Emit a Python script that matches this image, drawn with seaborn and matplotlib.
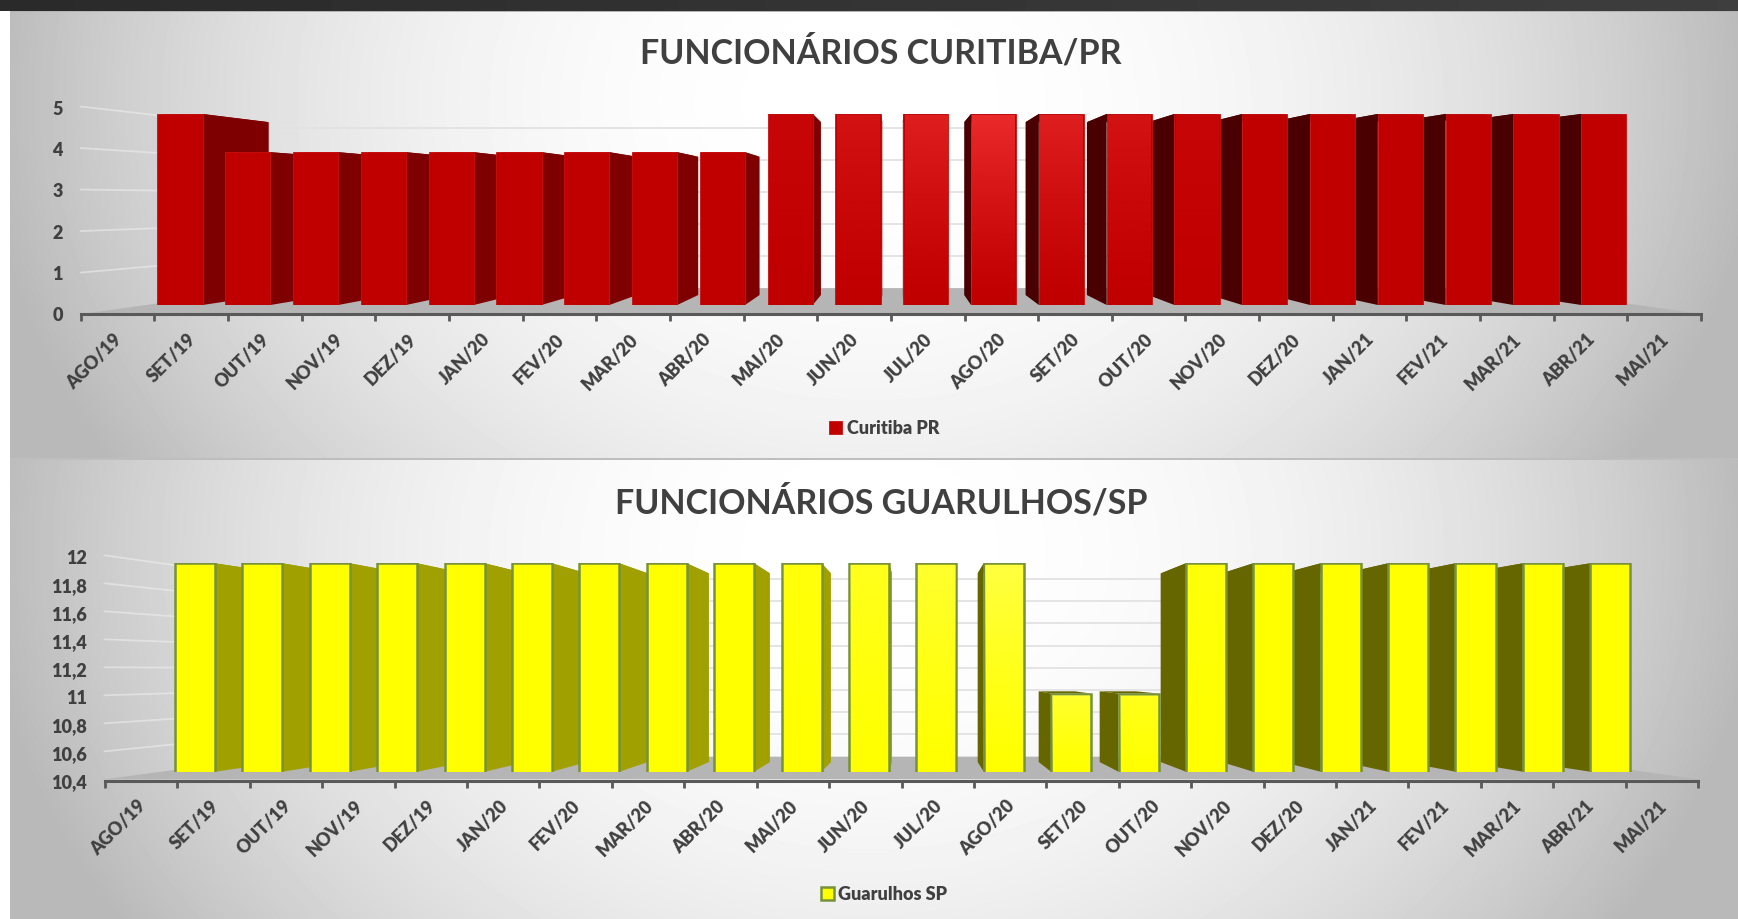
import numpy as np
import pandas as pd
import matplotlib
matplotlib.use("Agg")
import matplotlib.pyplot as plt
from matplotlib.patches import Polygon
from matplotlib.transforms import ScaledTranslation
import seaborn as sns

W, H = 1738, 919

meses = ["AGO/19", "SET/19", "OUT/19", "NOV/19", "DEZ/19", "JAN/20", "FEV/20", "MAR/20",
         "ABR/20", "MAI/20", "JUN/20", "JUL/20", "AGO/20", "SET/20", "OUT/20", "NOV/20",
         "DEZ/20", "JAN/21", "FEV/21", "MAR/21", "ABR/21", "MAI/21"]
curitiba = [5, 4, 4, 4, 4, 4, 4, 4, 4, 5, 5, 5, 5, 5, 5, 5, 5, 5, 5, 5, 5, 5]
guarulhos = [12, 12, 12, 12, 12, 12, 12, 12, 12, 12, 12, 12, 12, 11, 11, 12, 12, 12, 12, 12, 12, 12]
yticks_cwb = [0, 1, 2, 3, 4, 5]
yticks_gru = [10.4, 10.6, 10.8, 11, 11.2, 11.4, 11.6, 11.8, 12]
yticklabels_cwb = ["0", "1", "2", "3", "4", "5"]
yticklabels_gru = ["10,4", "10,6", "10,8", "11", "11,2", "11,4", "11,6", "11,8", "12"]

sns.set_style("white")
plt.rcParams["font.family"] = ["Lato", "DejaVu Sans"]
plt.rcParams["font.weight"] = "bold"
TXT = "#404040"


def rect(left, top, right, bottom):
    return [left / W, 1 - bottom / H, (right - left) / W, (bottom - top) / H]


def background():
    yy, xx = np.mgrid[0:H, 0:W]
    img = np.full((H, W), 255.0)
    for top, bottom in [(11, 459), (460, 919)]:
        m = (yy >= top) & (yy < bottom)
        r = np.sqrt(((xx - 870) / 868.0) ** 2 + ((yy - top - 90) / 680.0) ** 2)
        d = 67 * np.minimum(r, 1.02) ** 2.2
        img[m] = 255 - d[m]
    img[458:460, :] = 190
    img[11, :] = 180
    img[:, :10] = 255
    img[:11, :] = 42 + 20 * xx[:11, :] / W
    return img


def chart(fig, serie, valores, cor, lado_dir, lado_esq, borda, lw, brilho, title, title_y,
          front, axis_box, width, xv_px, yv_px, k_a, k_w, k_b, ticks, ticklabels,
          ylim, label_pad, ypad, leg_xy):
    df = pd.DataFrame({"mes": meses, "func": valores, "serie": serie})

    ax = fig.add_axes(rect(*front), zorder=2)
    ax.patch.set_alpha(0)
    sns.barplot(data=df, x="mes", y="func", hue="serie", palette=[cor], width=width, dodge=False,
                edgecolor=borda, linewidth=lw, saturation=1, ax=ax)
    ax.set_xlim(-0.5, 21.5)
    ax.set_ylim(*ylim)
    ax.set_xlabel("")
    ax.set_ylabel("")
    ax.set_xticks([])
    ax.set_yticks([])
    ax.grid(False)
    sns.despine(ax=ax, left=True, bottom=True)

    # eixo fica num axes proprio, por cima do chao
    ax_eixo = fig.add_axes(rect(*axis_box), zorder=3)
    ax_eixo.patch.set_alpha(0)
    ax_eixo.set_xlim(-0.5, 21.5)
    ax_eixo.set_ylim(*ylim)
    for s in ["top", "left", "right"]:
        ax_eixo.spines[s].set_visible(False)
    ax_eixo.spines["bottom"].set_linewidth(2.2)
    ax_eixo.spines["bottom"].set_color("#595959")
    ax_eixo.set_xticks(np.arange(-0.5, 22, 1))
    ax_eixo.set_xticklabels([])
    ax_eixo.set_xticks(np.arange(22), meses, minor=True)
    ax_eixo.tick_params(axis="x", which="major", length=5, width=2, color="#595959", direction="out", bottom=True)
    ax_eixo.tick_params(axis="x", which="minor", length=0, pad=label_pad, labelsize=13, labelcolor=TXT, bottom=False)
    desloc = ScaledTranslation(-4 / 100, 0, fig.dpi_scale_trans)
    for t in ax_eixo.get_xticklabels(minor=True):
        t.set_rotation(45)
        t.set_ha("right")
        t.set_va("top")
        t.set_rotation_mode("anchor")
        t.set_fontweight("heavy")
        t.set_transform(t.get_transform() + desloc)
    ax_eixo.set_yticks(ticks, ticklabels)
    ax_eixo.tick_params(axis="y", length=0, pad=ypad, labelsize=13, labelcolor=TXT, left=False)
    for t in ax_eixo.get_yticklabels():
        t.set_fontweight("heavy")

    # ponto de fuga em unidades de dado do plano frontal
    fl, ft, fr, fb = front
    xv = -0.5 + 22 * (xv_px - fl) / (fr - fl)
    yv = ylim[0] + (ylim[1] - ylim[0]) * (fb - yv_px) / (fb - ft)

    def proj(x, y, k):
        return (xv + k * (x - xv), yv + k * (y - yv))

    # chao e paredes
    x_l, x_r = -0.5, 21.5
    ax.add_patch(Polygon([proj(x_l, ylim[0], k_a), proj(x_r, ylim[0], k_a),
                          proj(x_r, ylim[0], k_w), proj(x_l, ylim[0], k_w)],
                         closed=True, fc="#b5b5b5", ec="none", zorder=0.5, clip_on=False))
    for v in ticks[1:]:
        a, b_, c_ = proj(x_l, v, k_a), proj(x_l, v, k_w), proj(x_r, v, k_w)
        ax.plot([a[0], b_[0]], [a[1], b_[1]], color="#f0f0f0", alpha=0.55, lw=1.3, zorder=0.6, clip_on=False)
        ax.plot([b_[0], c_[0]], [b_[1], c_[1]], color="#e2e2e2", lw=1.3, zorder=0.6, clip_on=False)

    barras = sorted(ax.containers[0], key=lambda b: -abs(b.get_x() + b.get_width() / 2 - xv))
    for b in barras:
        x0, x1 = b.get_x(), b.get_x() + b.get_width()
        h = b.get_height()
        b.set_zorder(3)
        if (x0 + x1) / 2 < xv:
            xs, c = x1, lado_dir
        else:
            xs, c = x0, lado_esq
        side = [(xs, ylim[0]), (xs, h), proj(xs, h, k_b), proj(xs, ylim[0], k_b)]
        top = [(x0, h), (x1, h), proj(x1, h, k_b), proj(x0, h, k_b)]
        ax.add_patch(Polygon(side, closed=True, fc=c, ec="none", zorder=1, clip_on=False))
        ax.add_patch(Polygon(top, closed=True, fc=c, ec="none", zorder=1, clip_on=False))

        # brilho no meio do grafico
        forca = 0.8 * max(0.0, 1 - abs((x0 + x1) / 2 - 12) / 3.6)
        if forca > 0:
            g = np.zeros((64, 2, 4))
            g[..., :3] = matplotlib.colors.to_rgb(brilho)
            g[..., 3] = (np.linspace(0, 1, 64) ** 1.2)[:, None] * forca
            ax.imshow(g, extent=[x0 + 0.02, x1 - 0.02, ylim[0], h - (ylim[1] - ylim[0]) * 0.008],
                      origin="lower", aspect="auto", zorder=3.2, interpolation="bilinear")
    ax.set_xlim(-0.5, 21.5)
    ax.set_ylim(*ylim)

    sns.move_legend(ax, "center", bbox_to_anchor=(leg_xy[0] / W, 1 - leg_xy[1] / H),
                    bbox_transform=fig.transFigure, frameon=False, title=None, fontsize=13,
                    handlelength=0.72, handleheight=0.72, handletextpad=0.25, labelcolor=TXT)
    for t in ax.get_legend().get_texts():
        t.set_fontweight("heavy")

    fig.text(881 / W, 1 - title_y / H, title, ha="center", va="center", fontsize=24.5,
             fontweight="bold", color=TXT)


fig = plt.figure(figsize=(W / 100, H / 100), dpi=100)
bg = fig.add_axes([0, 0, 1, 1], zorder=0)
bg.imshow(background(), cmap="gray", vmin=0, vmax=255, aspect="auto", interpolation="nearest")
bg.axis("off")

chart(fig, "Curitiba PR", curitiba, "#c00000", "#7f0000", "#4a0000", "#c81010", 0.6, "#f53535",
      "FUNCIONÁRIOS CURITIBA/PR", 53,
      front=(146.1, 114, 1637.7, 305), axis_box=(80.7, 108, 1701, 314), width=0.665,
      xv_px=899, yv_px=200, k_a=1.087, k_w=0.839, k_b=0.905,
      ticks=yticks_cwb, ticklabels=yticklabels_cwb, ylim=(0, 5), label_pad=12, ypad=13,
      leg_xy=(884, 428))

chart(fig, "Guarulhos SP", guarulhos, "#ffff00", "#a0a000", "#666600", "#76923c", 1.8, "#ffff50",
      "FUNCIONÁRIOS GUARULHOS/SP", 503,
      front=(161.3, 563.3, 1644, 771.7), axis_box=(105, 556.7, 1698, 780.7), width=0.594,
      xv_px=920, yv_px=670, k_a=1.075, k_w=0.852, k_b=0.905,
      ticks=yticks_gru, ticklabels=yticklabels_gru, ylim=(10.4, 12), label_pad=12, ypad=13,
      leg_xy=(884, 894))

fig.savefig("out.png", dpi=100)
